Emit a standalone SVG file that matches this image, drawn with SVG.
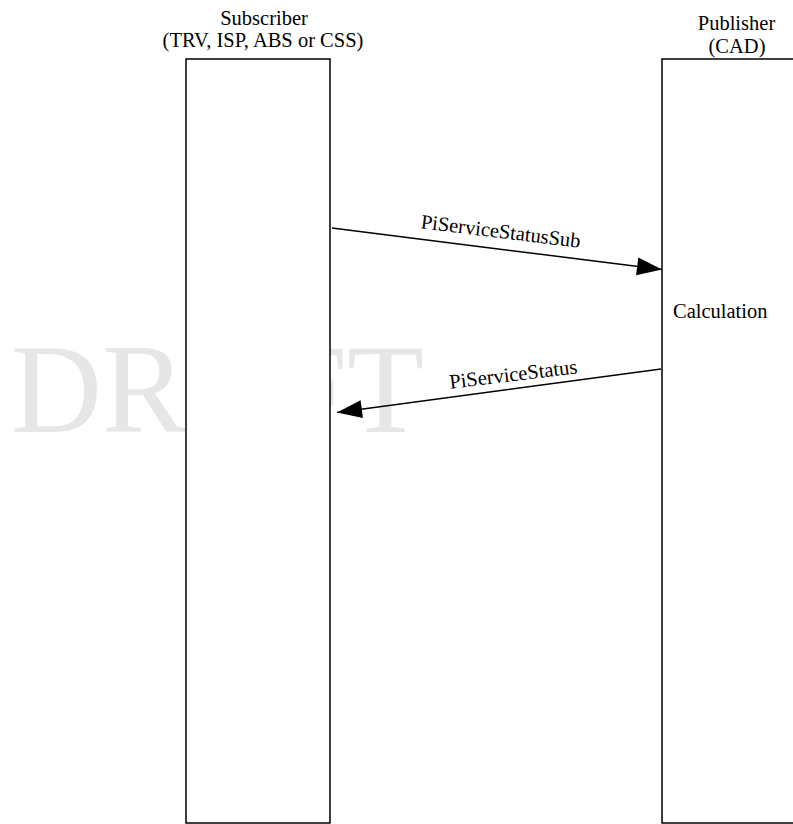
<svg xmlns="http://www.w3.org/2000/svg" width="793" height="824" viewBox="0 0 793 824">
  <style>
    text { font-family: "Liberation Serif", "Times New Roman", serif; font-size: 20.5px; fill: #000; }
    .wm { font-size: 126px; fill: #e6e6e6; }
    .life { fill: #fff; stroke: #000; stroke-width: 1.5; }
    .msg { stroke: #000; stroke-width: 1.5; fill: none; marker-end: url(#arrow); }
  </style>
  <defs>
    <marker id="arrow" markerUnits="userSpaceOnUse" markerWidth="26" markerHeight="18" refX="25" refY="9" orient="auto" overflow="visible">
      <path d="M0,0 L25,9 L0,18 Z" fill="#000"/>
    </marker>
  </defs>
  <rect width="793" height="824" fill="#fff"/>
  <text class="wm" x="11" y="432">DRAFT</text>

  <g id="subscriber">
    <rect class="life" x="186" y="59" width="144" height="764"/>
    <text x="264" y="25" text-anchor="middle">Subscriber</text>
    <text x="263" y="46.5" text-anchor="middle">(TRV, ISP, ABS or CSS)</text>
  </g>

  <g id="publisher">
    <rect class="life" x="662" y="59" width="150" height="764"/>
    <text x="736.5" y="30" text-anchor="middle">Publisher</text>
    <text x="737" y="53" text-anchor="middle">(CAD)</text>
    <text x="673" y="318">Calculation</text>
  </g>

  <g id="connectors">
    <line class="msg" x1="332" y1="228" x2="662" y2="269.5"/>
    <text x="500" y="238" text-anchor="middle" transform="rotate(7 500 238)">PiServiceStatusSub</text>
    <line class="msg" x1="661" y1="369" x2="337" y2="412.5"/>
    <text x="514" y="381" text-anchor="middle" transform="rotate(-7 514 381)">PiServiceStatus</text>
  </g>
</svg>
